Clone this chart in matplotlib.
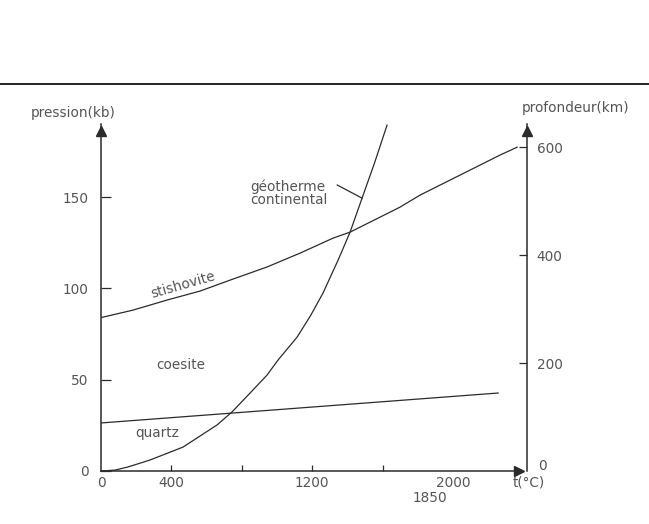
import matplotlib
matplotlib.use('Agg')
import matplotlib.pyplot as plt
from matplotlib.lines import Line2D

# SiO2 phase diagram (t in degC, p in kb)
geo_t = [0, 80, 153, 278, 466, 659, 744, 847, 943, 1006, 1114, 1190, 1261,
         1347, 1415, 1483, 1555, 1625]
geo_p = [0, 0.5, 2.2, 6.0, 13.1, 25.2, 32.3, 42.7, 52.5, 60.8, 73.3, 85.0, 97.4,
         115.5, 130.8, 149.4, 169.0, 189.4]

stish_t = [0, 182, 375, 562, 750, 943, 1131, 1318, 1415, 1585, 1699, 1813, 1983,
           2267, 2364]
stish_p = [84.0, 88.1, 93.6, 98.5, 105.1, 111.7, 119.3, 127.5, 130.8, 139.0,
           144.5, 151.1, 159.3, 173.0, 177.3]

quartz_t = [0, 2256]
quartz_p = [26.3, 42.7]

p_ticks = [0, 50, 100, 150]
depth_ticks = [200, 400, 600]
t_ticks = [400, 800, 1200, 1600]
t_labels = ['0', '400', '1200', '2000']
t_label_pos = [0, 400, 1200, 2000]

W, H = 649, 524
ink = '#2b2b2b'
txt = '#555555'
fs = 9.8

fig = plt.figure(figsize=(W / 100, H / 100), dpi=100)
fig.patch.set_facecolor('white')

# thin rule across the top of the page
fig.add_artist(Line2D([0, 1], [1 - 84 / H, 1 - 84 / H], color='black', lw=1.2))

ax = fig.add_axes([101 / W, 53 / H, 426 / W, 347 / H])
ax.set_xlim(0, 2420)
ax.set_ylim(0, 190)
ax.patch.set_alpha(0)

for s in ['top', 'right']:
    ax.spines[s].set_visible(False)
ax.spines['left'].set_color(ink)
ax.spines['bottom'].set_color(ink)
ax.spines['left'].set_linewidth(1.1)
ax.spines['bottom'].set_linewidth(1.1)
ax.spines['bottom'].set_bounds(0, 2385)

ax.set_yticks(p_ticks)
ax.set_yticklabels([str(v) for v in p_ticks])
ax.tick_params(axis='y', direction='in', length=7, width=0.9, color=ink,
               pad=9, labelsize=fs, labelcolor=txt)
ax.yaxis.get_major_ticks()[0].tick1line.set_visible(False)

ax.set_xticks(t_ticks)
ax.set_xticklabels([])
ax.tick_params(axis='x', direction='in', length=4, width=0.9, color=ink)
for x, lab in zip(t_label_pos, t_labels):
    ax.text(x, -12 / 347, lab, transform=ax.get_xaxis_transform(),
            ha='center', va='center', fontsize=fs, color=txt)
ax.text(1870, -27 / 347, '1850', transform=ax.get_xaxis_transform(),
        ha='center', va='center', fontsize=fs, color=txt)
ax.text(2430, -11 / 347, 't(°C)', transform=ax.get_xaxis_transform(),
        ha='center', va='center', fontsize=fs, color=txt)

# arrow heads
ax.plot([0], [186], marker='^', ms=7, color=ink, clip_on=False)
ax.plot([2372], [0], marker='>', ms=7, color=ink, clip_on=False)

# right axis: depth
ax2 = ax.twinx()
ax2.set_ylim(0, 190 * 600 / 177.3)
for s in ['top', 'left', 'bottom']:
    ax2.spines[s].set_visible(False)
ax2.spines['right'].set_color(ink)
ax2.spines['right'].set_linewidth(1.1)
ax2.set_yticks(depth_ticks)
ax2.set_yticklabels([str(v) for v in depth_ticks])
ax2.tick_params(axis='y', direction='in', length=6, width=0.9, color=ink,
                pad=7, labelsize=fs, labelcolor=txt)
ax2.plot([2420], [186 * 600 / 177.3], marker='^', ms=7, color=ink, clip_on=False)
ax2.text(1.037, 5 / 347, '0', transform=ax2.transAxes, ha='center',
         va='center', fontsize=fs, color=txt)

# phase boundaries and geotherm
ax.plot(quartz_t, quartz_p, color=ink, lw=0.9)
ax.plot(stish_t, stish_p, color=ink, lw=0.9)
ax.plot(geo_t, geo_p, color=ink, lw=0.9, clip_on=False)

# labels
fig.text(73 / W, 1 - 113 / H, 'pression(kb)', ha='center', va='center',
         fontsize=fs, color=txt)
fig.text(576 / W, 1 - 108 / H, 'profondeur(km)', ha='center', va='center',
         fontsize=fs, color=txt)
ax.text(850, 152, 'géotherme\ncontinental', ha='left', va='center',
        fontsize=fs, color=txt, linespacing=0.95)
ax.plot([1342, 1483], [156.6, 149.4], color=ink, lw=0.9)
ax.text(465, 102, 'stishovite', ha='center', va='center', rotation=16,
        fontsize=fs, color=txt)
ax.text(455, 58, 'coesite', ha='center', va='center', fontsize=fs, color=txt)
ax.text(320, 21, 'quartz', ha='center', va='center', fontsize=fs, color=txt)

fig.savefig('out.png', dpi=100, facecolor='white')
